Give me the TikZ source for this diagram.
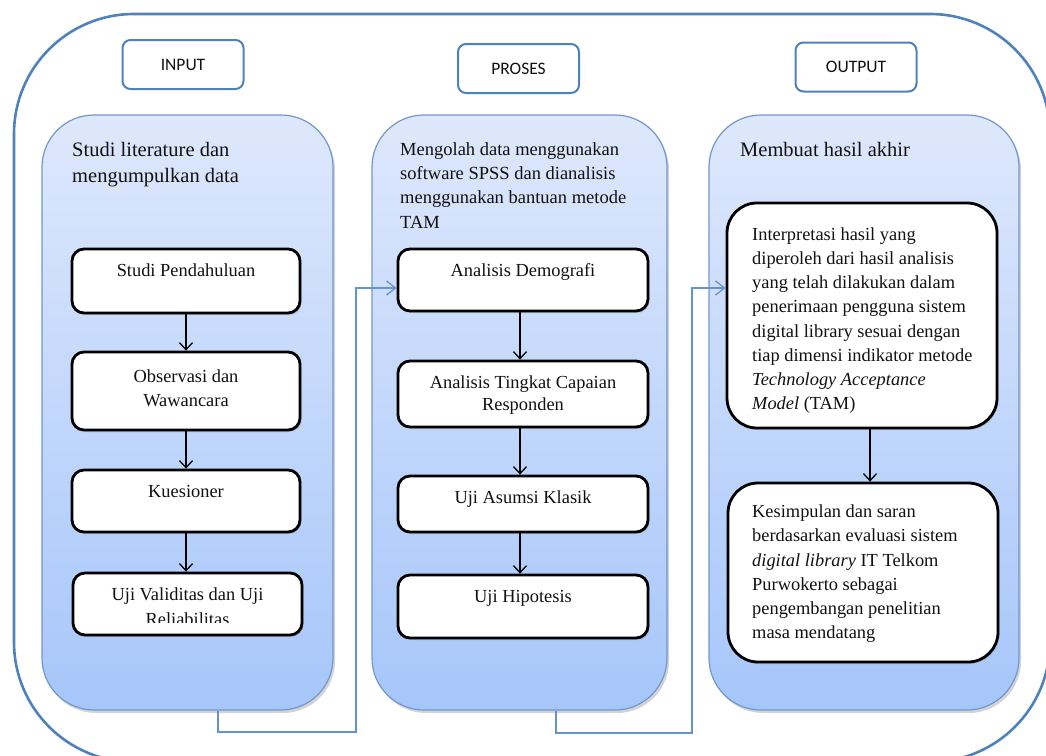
\documentclass[tikz,border=0pt]{standalone}
\usepackage{fontspec}
\setmainfont{Liberation Serif}
\newfontfamily\calib{Carlito}
\usetikzlibrary{arrows.meta,shadows,calc}
\definecolor{outerblue}{RGB}{79,129,189}
\definecolor{panelline}{RGB}{112,152,206}
\definecolor{linkblue}{RGB}{100,148,208}
\definecolor{paneltop}{RGB}{222,232,252}
\definecolor{panelbot}{RGB}{166,198,250}
\definecolor{txt}{RGB}{20,16,16}
\begin{document}
\begin{tikzpicture}[x=1pt,y=-1pt,
  frame/.style={draw=outerblue, line width=2.6pt, rounded corners=120pt, inner sep=0pt},
  labelbox/.style={draw=outerblue, line width=2pt, rounded corners=8pt, fill=white, minimum width=121pt, minimum height=49pt, font=\calib\fontsize{17.5pt}{21pt}\selectfont, text=txt, inner sep=0pt},
  panel/.style={draw=panelline, line width=1.2pt, rounded corners=52pt, top color=paneltop, bottom color=panelbot, drop shadow={shadow xshift=2pt, shadow yshift=-3pt, opacity=0.35}, inner sep=0pt},
  ibox/.style={draw=black, line width=2.8pt, rounded corners=12pt, fill=white, drop shadow={shadow xshift=1.5pt, shadow yshift=-2pt, opacity=0.3}, inner sep=0pt},
  bigbox/.style={ibox, rounded corners=30pt},
  itext/.style={font=\fontsize{18.4pt}{22pt}\selectfont, align=center, inner sep=0pt, text=txt},
  ltext/.style={font=\fontsize{18.4pt}{24.2pt}\selectfont, align=left, inner sep=0pt, text=txt},
  htext/.style={font=\fontsize{20.5pt}{26pt}\selectfont, align=left, inner sep=0pt, text=txt},
  arr/.style={draw=black, line width=1.3pt, -{Straight Barb[length=7pt,width=13pt,line width=1.3pt]}},
  link/.style={draw=linkblue, line width=1.3pt, -{Straight Barb[length=9pt,width=14pt,line width=1.3pt]}}
]
\useasboundingbox (0,0) rectangle (1046,755);
\clip (0,0) rectangle (1046,755);

% outer frame
\node[frame, minimum width=1036pt, minimum height=748pt] (frame) at (532,388) {};

% header labels
\node[labelbox] (lin) at (183,64.5) {INPUT};
\node[labelbox] (lpr) at (518.5,68.5) {PROSES};
\node[labelbox] (lout) at (856,67) {OUTPUT};

% panels
\node[panel, minimum width=291pt, minimum height=595pt] (lp) at (187.5,412.5) {};
\node[panel, minimum width=295pt, minimum height=595pt] (mp) at (519.5,412.5) {};
\node[panel, minimum width=310pt, minimum height=595pt] (rp) at (864,412.5) {};

% panel headings
\node[htext, anchor=north west] (lh) at (72,141.7) {Studi literature dan\\mengumpulkan data};
\node[font=\fontsize{18.5pt}{24.2pt}\selectfont, align=left, inner sep=0pt, text=txt, anchor=north west] (mh) at (400,142.4) {Mengolah data menggunakan\\software SPSS dan dianalisis\\menggunakan bantuan metode\\TAM};
\node[htext, anchor=north west] (rh) at (740,142) {Membuat hasil akhir};

% inner boxes
\node[ibox, minimum width=228pt, minimum height=64pt] (b1) at (186,281) {};
\node[ibox, minimum width=228pt, minimum height=78pt] (b2) at (186,391) {};
\node[ibox, minimum width=228pt, minimum height=62pt] (b3) at (186,501) {};
\node[ibox, minimum width=229pt, minimum height=62pt] (b4) at (187.5,604) {};

\node[ibox, minimum width=250pt, minimum height=62pt] (m1) at (523,280) {};
\node[ibox, minimum width=250pt, minimum height=66pt] (m2) at (523,394) {};
\node[ibox, minimum width=250pt, minimum height=56pt] (m3) at (523,504) {};
\node[ibox, minimum width=250pt, minimum height=63pt] (m4) at (523,606.5) {};

\node[bigbox, minimum width=270pt, minimum height=225pt] (r1) at (862,315.5) {};
\node[bigbox, minimum width=270pt, minimum height=179pt] (r2) at (863,572.5) {};

% box texts
\node[itext, anchor=base] (t1) at (186,276) {Studi Pendahuluan};
\node[itext, anchor=north, font=\fontsize{18.4pt}{24pt}\selectfont] (t2) at (186,369.3) {Observasi dan\\Wawancara};
\node[itext, anchor=base] (t3) at (186,497) {Kuesioner};
\begin{scope}
\clip (76,578) rectangle (298,622);
\node[itext, anchor=north, font=\fontsize{18.4pt}{25pt}\selectfont] (t4) at (187.5,588) {Uji Validitas dan Uji\\Reliabilitas};
\end{scope}

\node[itext, anchor=base] (u1) at (523,276) {Analisis Demografi};
\node[itext, anchor=north] (u2) at (523,375.4) {Analisis Tingkat Capaian\\Responden};
\node[itext, anchor=base] (u3) at (523,503) {Uji Asumsi Klasik};
\node[itext, anchor=base] (u4) at (523,602) {Uji Hipotesis};

\node[ltext, anchor=north west] (v1) at (752,227.4) {Interpretasi hasil yang\\diperoleh dari hasil analisis\\yang telah dilakukan dalam\\penerimaan pengguna sistem\\digital library sesuai dengan\\tiap dimensi indikator metode\\\textit{Technology Acceptance}\\\textit{Model} (TAM)};
\node[ltext, anchor=north west] (v2) at (752,504.7) {Kesimpulan dan saran\\berdasarkan evaluasi sistem\\\textit{digital library} IT Telkom\\Purwokerto sebagai\\pengembangan penelitian\\masa mendatang};

% black arrows
\coordinate (lx) at (186,0);
\draw[arr] (b1.south -| lx) -- (b2.north -| lx);
\draw[arr] (b2.south -| lx) -- (b3.north -| lx);
\draw[arr] (b3.south -| lx) -- (b4.north -| lx);
\coordinate (mx) at (520,0);
\draw[arr] (m1.south -| mx) -- (m2.north -| mx);
\draw[arr] (m2.south -| mx) -- (m3.north -| mx);
\draw[arr] (m3.south -| mx) -- (m4.north -| mx);
\coordinate (rx) at (870,0);
\draw[arr] (r1.south -| rx) -- (r2.north -| rx);

% blue connectors
\coordinate (c1x) at (218,0);
\coordinate (c2x) at (556,0);
\draw[link] (lp.south -| c1x) -- (218,732) -- (356,732) -- (356,288) -- ($(m1.west)+(0,8)$);
\draw[link] (mp.south -| c2x) -- (556,733) -- (692,733) -- (692,288) -- ($(r1.west)+(0,-27.5)$);
\end{tikzpicture}
\end{document}
